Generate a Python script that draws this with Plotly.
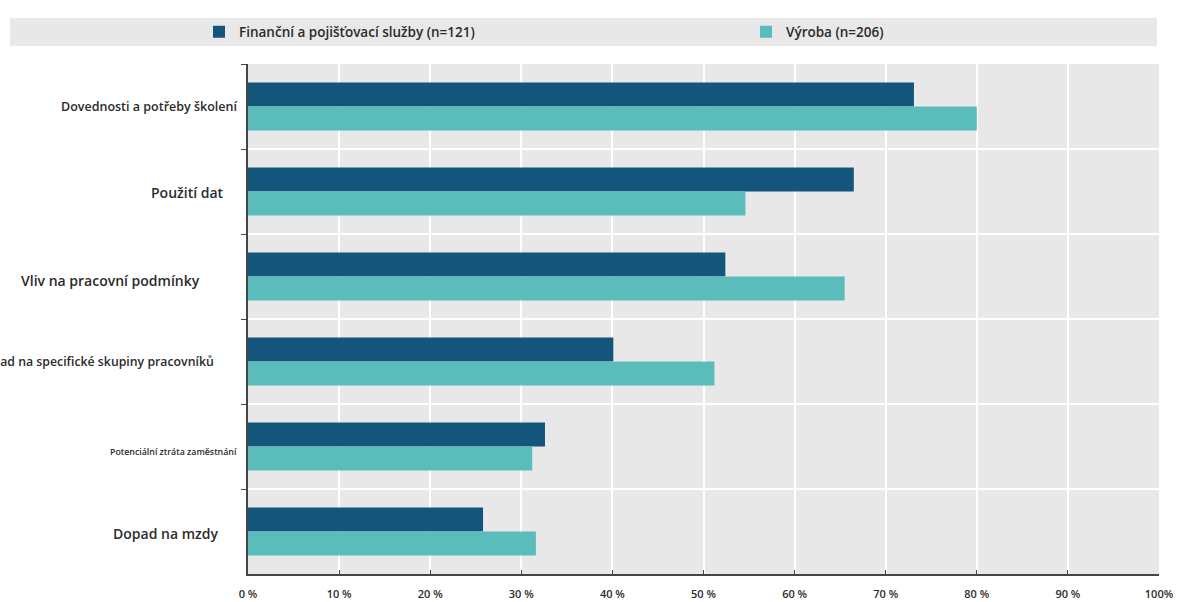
import plotly.graph_objects as go

categories = [
    "Dovednosti a potřeby školení",
    "Použití dat",
    "Vliv na pracovní podmínky",
    "Dopad na specifické skupiny pracovníků",
    "Potenciální ztráta zaměstnání",
    "Dopad na mzdy",
]
finance = [73.1, 66.5, 52.4, 40.1, 32.6, 25.8]
vyroba = [80.0, 54.6, 65.5, 51.2, 31.2, 31.6]
series_names = ["Finanční a pojišťovací služby (n=121)", "Výroba (n=206)"]
x_tickvals = [0, 10, 20, 30, 40, 50, 60, 70, 80, 90, 100]
x_ticktext = ["0 %", "10 %", "20 %", "30 %", "40 %", "50 %", "60 %", "70 %", "80 %", "90 %", "100%"]
label_sizes = [12.5, 14, 14, 12.3, 8.8, 14]
label_shift = [-11, -24, -48, -34, -11, -30]
label_yshift = [0, -1, -4, 0, -5, -2]

DARK = "#14557b"
TEAL = "#5bbcbc"
FONT = "Open Sans"
TXT = "#2b2b2b"
WEIGHT = 600

fig = go.Figure()
fig.add_trace(go.Bar(y=categories, x=finance, orientation="h", name=series_names[0],
                     marker=dict(color=DARK, line=dict(width=0)), legend="legend"))
fig.add_trace(go.Bar(y=categories, x=vyroba, orientation="h", name=series_names[1],
                     marker=dict(color=TEAL, line=dict(width=0)), legend="legend2"))

L, R, T, B = 248, 28, 64, 28
W, H = 1187, 602
pw, ph = W - L - R, H - T - B

def px_x(p):
    return (p - L) / pw

def px_y(p):
    return 1 + (T - p) / ph

annotations = []
for i, c in enumerate(categories):
    annotations.append(dict(
        x=0, xref="paper", y=c, yref="y", text=c, showarrow=False,
        xanchor="right", yanchor="middle", xshift=label_shift[i] + 2, yshift=label_yshift[i],
        font=dict(family=FONT, size=label_sizes[i], color=TXT, weight=WEIGHT),
    ))

legend_common = dict(
    orientation="h", xanchor="left", y=px_y(32), yanchor="middle",
    bgcolor="rgba(0,0,0,0)", font=dict(family=FONT, size=13.5, color=TXT, weight=WEIGHT),
)

fig.update_layout(
    width=W, height=H,
    margin=dict(l=L, r=R, t=T, b=B),
    paper_bgcolor="white",
    plot_bgcolor="#e8e8e8",
    barmode="group",
    bargap=0.435,
    bargroupgap=0,
    font=dict(family=FONT, size=11, color=TXT),
    showlegend=True,
    legend=dict(x=px_x(199), **legend_common),
    legend2=dict(x=px_x(746), **legend_common),
    shapes=[dict(type="rect", xref="paper", yref="paper",
                 x0=px_x(10), x1=px_x(1157), y0=px_y(46), y1=px_y(18),
                 fillcolor="#e8e8e8", line=dict(width=0), layer="below")],
    annotations=annotations,
    xaxis=dict(
        range=[0, 100], tickvals=x_tickvals, ticktext=x_ticktext,
        showgrid=True, gridcolor="white", gridwidth=1.5,
        showline=True, linecolor="#444444", linewidth=1.5,
        ticks="inside", ticklen=4, tickcolor="#444444",
        ticklabelstandoff=9, zeroline=False, automargin=False,
        tickfont=dict(family=FONT, size=11, color=TXT, weight=WEIGHT),
    ),
    yaxis=dict(
        autorange="reversed", tickson="boundaries",
        showgrid=True, gridcolor="white", gridwidth=1.5,
        showline=True, linecolor="#444444", linewidth=1.5,
        ticks="outside", ticklen=5, tickcolor="#444444",
        showticklabels=False, automargin=False,
    ),
)

fig.write_html("out.html")
